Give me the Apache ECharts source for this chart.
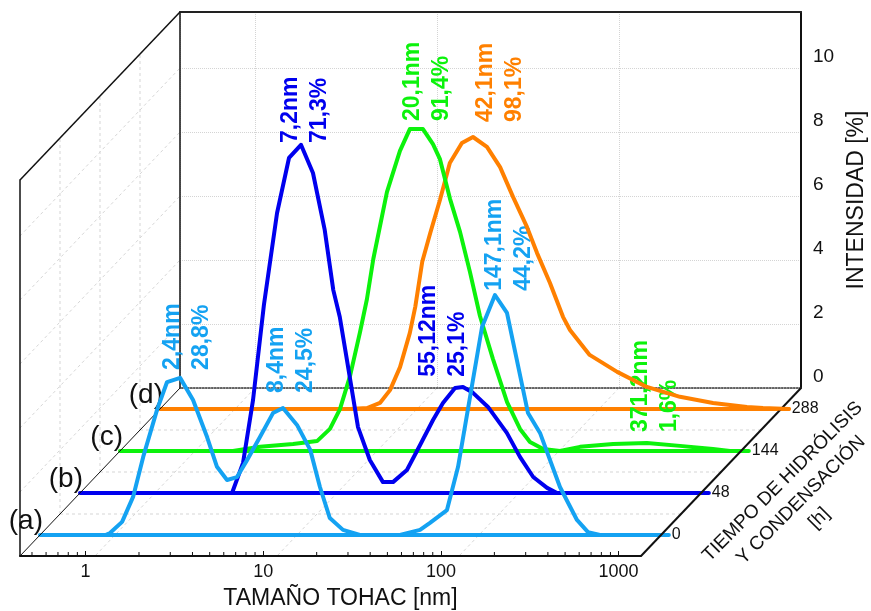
<!DOCTYPE html>
<html>
<head>
<meta charset="utf-8">
<script src="https://cdn.jsdelivr.net/npm/echarts@6/dist/echarts.min.js"></script>
<style>html,body{margin:0;padding:0;background:#fff}#c{width:871px;height:611px}</style>
</head>
<body>
<div id="c"></div>
<script>
// ================= DATA =================
const depthHours = ['0', '48', '144', '288'];          // TIEMPO DE HIDRÓLISIS (h)
const seriesTags = ['(a)', '(b)', '(c)', '(d)'];
const minorTickSizes = [0.5, 0.6, 0.7, 0.8, 0.9, 2, 3, 4, 5, 6, 7, 8, 9,
  20, 30, 40, 50, 60, 70, 80, 90, 200, 300, 400, 500, 600, 700, 800, 900];

// (a) 0 h
const sizeA = [1.0, 1.06, 1.24, 1.43, 1.63, 1.95, 2.22, 2.63, 3.11, 3.73, 4.24, 4.83, 5.50, 6.26, 7.40, 8.76, 9.97, 11.96, 14.2, 16.1, 18.3, 21.7, 27.0, 45.4, 58.9, 67.0, 83.5, 96.4, 131.5, 155.5, 181.7, 238.6, 278.8, 361, 450, 519, 606];
const intensityA = [0, 0.06, 0.41, 1.19, 2.44, 3.91, 4.78, 4.91, 4.22, 3.06, 2.13, 1.72, 1.81, 2.34, 3.06, 3.81, 3.97, 3.44, 2.66, 1.5, 0.53, 0.16, 0, 0, 0.16, 0.38, 0.78, 2.13, 6.5, 7.5, 6.94, 3.81, 3.19, 1.5, 0.47, 0.09, 0];
const notesA = [['2,4nm', '28,8%'], ['8,4nm', '24,5%'], ['147,1nm', '44,2%']];

// (b) 48 h
const sizeB = [3.07, 3.54, 4.03, 4.64, 5.50, 6.42, 7.50, 8.76, 10.2, 11.4, 12.4, 13.6, 15.7, 18.3, 21.7, 24.7, 29.6, 35.1, 41.5, 47.2, 55.2, 61.2, 69.7, 84.6, 108, 128, 152, 182, 207];
const intensityB = [0, 0.94, 2.91, 5.88, 8.75, 10.47, 10.88, 10.0, 8.22, 6.34, 5.5, 4.16, 2.06, 1.03, 0.34, 0.34, 0.72, 1.5, 2.28, 2.81, 3.28, 3.31, 3.13, 2.69, 1.88, 1.13, 0.5, 0.16, 0];
const notesB = [['7,2nm', '71,3%'], ['55,12nm', '25,1%']];

// (c) 144 h
const sizeC = [1.85, 2.63, 4.03, 5.50, 6.50, 7.40, 8.43, 9.60, 10.5, 11.4, 13.6, 16.1, 18.3, 21.7, 24.7, 27.0, 30.8, 35.1, 39.9, 45.4, 53.7, 64.5, 76.3, 86.8, 103, 128, 166, 255, 395, 606, 930, 1159];
const intensityC = [0, 0.13, 0.22, 0.31, 0.69, 1.31, 2.34, 3.72, 4.75, 6.0, 8.09, 9.38, 10.06, 10.06, 9.59, 9.13, 7.88, 6.84, 5.59, 4.22, 2.88, 1.53, 0.69, 0.28, 0.06, 0, 0.13, 0.22, 0.25, 0.16, 0.06, 0];
const notesC = [['20,1nm', '91,4%'], ['371,2nm', '1,6%']];

// (d) 288 h
const sizeD = [5.02, 6.26, 7.40, 8.43, 9.60, 10.9, 11.7, 12.8, 14.2, 16.1, 18.3, 21.4, 24.7, 29.6, 35.1, 41.5, 49.7, 56.6, 67.0, 79.3, 86.8, 112, 160, 235, 361, 554, 860, 1059, 1480];
const intensityD = [0, 0.03, 0.19, 0.59, 1.31, 2.38, 3.2, 4.6, 5.5, 6.53, 7.69, 8.31, 8.5, 8.19, 7.56, 6.63, 5.69, 4.88, 3.94, 2.88, 2.47, 1.69, 1.16, 0.69, 0.38, 0.19, 0.06, 0.03, 0];
const notesD = [['42,1nm', '98,1%']];

// ================= LAYOUT / STYLE =================
const FONT = 'Liberation Sans, Arial, Helvetica, sans-serif';
const COLORS = ['#14A2F2', '#0000EE', '#0CF20C', '#FF8000'];
const X_MIN = 0.428, X_MAX_BOX = 1337, X_MAX_LINE = 1480, Y_MAX = 11.75;
const PX_DECADE = 177.7, PX_UNIT = 32;
const BOX_LEFT = 20, BOX_BOTTOM = 556, DEPTH_DX = 160, DEPTH_DY = 168;
const WALL_GRID_STEP = 182;
// label anchors (size, intensity) for the peak annotations, per series
const NOTE_ANCHORS = [
  [[2.87, 5.16], [11.07, 4.44], [186.5, 7.63]],
  [[7.90, 10.94], [47.2, 3.63]],
  [[23.0, 10.31], [438.6, 0.59]],
  [[35.1, 8.97]]
];

const boxW = PX_DECADE * Math.log10(X_MAX_BOX / X_MIN);
const lineW = PX_DECADE * Math.log10(X_MAX_LINE / X_MIN);
const boxH = PX_UNIT * Y_MAX;
const plane = f => ({ x: BOX_LEFT + DEPTH_DX * f, y: BOX_BOTTOM - DEPTH_DY * f });

const sizes = [sizeA, sizeB, sizeC, sizeD];
const intens = [intensityA, intensityB, intensityC, intensityD];
const notes = [notesA, notesB, notesC, notesD];

const grids = [], xAxes = [], yAxes = [], series = [];
const hidden = { axisLine: { show: false }, axisTick: { show: false }, axisLabel: { show: false }, splitLine: { show: false } };
const gridBase = { outerBoundsMode: 'none', containLabel: false, show: false };

// grid 0: back wall
const wall = plane(1);
grids.push(Object.assign({ left: wall.x, top: wall.y - boxH, width: boxW, height: boxH }, gridBase));
xAxes.push(Object.assign({}, hidden, {
  gridIndex: 0, type: 'value', inverse: true, min: 0, max: boxW / WALL_GRID_STEP, interval: 1,
  axisLine: { show: true, onZero: false, lineStyle: { color: '#333', width: 1.5, type: 'dotted' } },
  splitLine: { show: true, lineStyle: { color: '#d4d4d4', width: 1, type: 'dotted' } }
}));
xAxes.push(Object.assign({}, hidden, {
  gridIndex: 0, type: 'value', position: 'top', min: 0, max: 1,
  axisLine: { show: true, onZero: false, lineStyle: { color: '#222', width: 2 } }
}));
yAxes.push({
  gridIndex: 0, type: 'value', position: 'right', min: 0, max: Y_MAX, interval: 2,
  axisLine: { show: true, onZero: false, lineStyle: { color: '#111', width: 2 } },
  axisTick: { show: false },
  axisLabel: { show: true, margin: 12, fontSize: 19, color: '#111', fontFamily: FONT, verticalAlign: 'bottom', lineHeight: 20, padding: [0, 0, 1, 0], showMaxLabel: false },
  splitLine: { show: true, lineStyle: { color: '#d4d4d4', width: 1, type: 'dotted' } },
  name: 'INTENSIDAD [%]', nameLocation: 'middle', nameGap: 44, nameRotate: 90, nameMoveOverlap: false,
  nameTextStyle: { fontSize: 23, color: '#111', fontFamily: FONT, padding: [0, 0, 10, 0] }
});
yAxes.push(Object.assign({}, hidden, {
  gridIndex: 0, type: 'value', position: 'left', min: 0, max: Y_MAX,
  axisLine: { show: true, onZero: false, lineStyle: { color: '#111', width: 1.5 } }
}));

// grid 1: front plane (size axis)
const front = plane(0);
grids.push(Object.assign({ left: front.x, top: front.y - boxH, width: boxW, height: boxH }, gridBase));
xAxes.push({
  gridIndex: 1, type: 'log', logBase: 10, min: X_MIN, max: X_MAX_BOX,
  axisLine: { show: true, onZero: false, lineStyle: { color: '#111', width: 2 } },
  axisTick: { show: true, inside: true, length: 5, lineStyle: { color: '#111', width: 1 } },
  axisLabel: { show: true, margin: 7, fontSize: 18, color: '#111', fontFamily: FONT, showMinLabel: false, showMaxLabel: false,
    formatter: v => String(Number(v.toPrecision(6))) },
  splitLine: { show: false },
  name: 'TAMAÑO TOHAC [nm]', nameLocation: 'middle', nameGap: 31, nameMoveOverlap: false,
  nameTextStyle: { fontSize: 23, color: '#111', fontFamily: FONT, padding: [0, 0, 0, 20] }
});
yAxes.push(Object.assign({}, hidden, {
  gridIndex: 1, type: 'value', position: 'left', min: 0, max: Y_MAX,
  axisLine: { show: true, onZero: false, lineStyle: { color: '#111', width: 1.5 } }
}));

// series planes
for (let k = 0; k < 4; k++) {
  const p = plane((k + 0.5) / 4);
  const gi = grids.length;
  grids.push(Object.assign({ left: p.x, top: p.y - boxH, width: lineW, height: boxH }, gridBase));
  xAxes.push(Object.assign({}, hidden, {
    gridIndex: gi, type: 'log', min: X_MIN, max: X_MAX_LINE,
    axisLine: { show: true, onZero: false, lineStyle: { color: COLORS[k], width: 4 } },
    name: depthHours[k], nameLocation: 'end', nameGap: 3, nameMoveOverlap: false,
    nameTextStyle: { fontSize: 16, color: '#111', fontFamily: FONT, align: 'left', verticalAlign: 'middle' }
  }));
  yAxes.push(Object.assign({}, hidden, {
    gridIndex: gi, type: 'value', min: 0, max: Y_MAX,
    name: seriesTags[k], nameLocation: 'start', nameGap: 0, nameMoveOverlap: false,
    nameTextStyle: { fontSize: 28, color: '#111', fontFamily: FONT, align: 'right', verticalAlign: 'bottom', padding: [0, -3, 0, 0] }
  }));
  const ai = xAxes.length - 1;
  series.push({
    type: 'line', xAxisIndex: ai, yAxisIndex: ai, z: 10 - k,
    data: sizes[k].map((s, i) => [s, intens[k][i]]),
    showSymbol: false, symbol: 'none', smooth: false, clip: false,
    lineStyle: { color: COLORS[k], width: 4, cap: 'round', join: 'round' },
    silent: true,
    markPoint: {
      symbol: 'circle', symbolSize: 0, silent: true,
      data: notes[k].map((n, j) => ({
        coord: NOTE_ANCHORS[k][j],
        label: { formatter: n.join('\n') }
      })),
      label: {
        show: true, position: 'inside', rotate: 90, align: 'left', verticalAlign: 'middle',
        fontSize: 23, lineHeight: 29, fontWeight: 'bold', fontFamily: FONT, color: COLORS[k]
      }
    }
  });
}

// minor ticks along the size axis
series.push({
  type: 'custom', xAxisIndex: 2, yAxisIndex: 2, silent: true, clip: false, z: 3,
  data: minorTickSizes.map(v => [v, 0]),
  renderItem: (params, api) => {
    const p = api.coord([api.value(0), api.value(1)]);
    return { type: 'line', shape: { x1: p[0], y1: p[1] - 1, x2: p[0], y2: p[1] - 4 }, style: { stroke: '#111', lineWidth: 1 } };
  }
});

const chart = echarts.init(document.getElementById('c'), null, { renderer: 'canvas' });
chart.setOption({ animation: false, backgroundColor: '#fff', grid: grids, xAxis: xAxes, yAxis: yAxes, series: series });

// ---------- pseudo-3D box decorations (derived from axes) ----------
const g = [];
const gray = { stroke: '#d6d6d6', lineWidth: 1, lineDash: [3, 3] };
const black = w => ({ stroke: '#111', lineWidth: w });
const seg = (x1, y1, x2, y2, style, z) => g.push({ type: 'line', silent: true, z: z || 0, shape: { x1, y1, x2, y2 }, style });

// wall x-grid positions continued on the floor
for (let v = 1; v * WALL_GRID_STEP < boxW; v++) {
  const xb = chart.convertToPixel({ xAxisIndex: 0 }, v);
  seg(xb, wall.y, xb - DEPTH_DX, front.y, gray);
}
// intensity grid on the side wall
for (let v = 2; v <= 10; v += 2) {
  const yb = chart.convertToPixel({ yAxisIndex: 0 }, v);
  seg(front.x, yb + DEPTH_DY, wall.x, yb, gray);
}
// depth boundaries on floor and side wall
for (let k = 1; k < 4; k++) {
  const p = plane(k / 4);
  seg(p.x, p.y, p.x + boxW, p.y, gray);
  seg(p.x, p.y, p.x, p.y - boxH, gray);
}
// box edges
seg(front.x, front.y - boxH, wall.x, wall.y - boxH, black(1.5), 1);
seg(front.x, front.y, wall.x, wall.y, black(1), 1);
seg(front.x + boxW, front.y, wall.x + boxW, wall.y, black(2), 1);
// depth axis title
const mid = [(front.x + wall.x) / 2 + boxW, (front.y + wall.y) / 2];
g.push({
  type: 'text', silent: true, x: mid[0] + 80, y: mid[1] + 28, rotation: Math.PI / 4,
  style: { text: 'TIEMPO DE HIDRÓLISIS\nY CONDENSACIÓN\n[h]', fontSize: 19, lineHeight: 26, fontFamily: FONT, fill: '#111', align: 'center', verticalAlign: 'middle' }
});
chart.setOption({ graphic: g });
</script>
</body>
</html>
